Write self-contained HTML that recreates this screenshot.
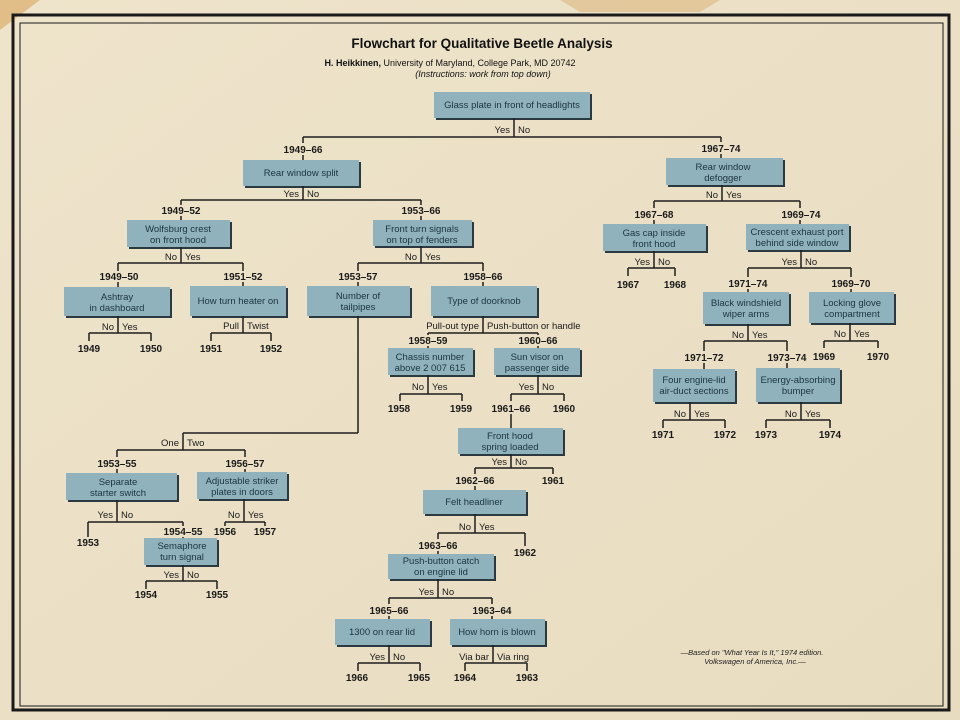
<!DOCTYPE html>
<html><head><meta charset="utf-8"><style>
html,body{margin:0;padding:0;background:#e9dfc4;}
svg{display:block}
text{font-family:"Liberation Sans",sans-serif;}
.b{font-size:9.5px;fill:#1c3440;text-anchor:middle}
.l{font-size:9.5px;fill:#1a1a1a}
.y{font-size:10px;font-weight:bold;fill:#1a1a1a;text-anchor:middle}
line{stroke:#1e1e1e;stroke-width:1.5}
.s{fill:#2b3a40}.r{fill:#8fb2bc}
</style></head><body>
<svg width="960" height="720" viewBox="0 0 960 720">
<defs><linearGradient id="g" x1="0" y1="0" x2="1" y2="1"><stop offset="0" stop-color="#eee4cb"/><stop offset="1" stop-color="#e8dcc0"/></linearGradient></defs>
<rect width="960" height="720" fill="url(#g)"/>
<path d="M0 0 L40 0 L0 30Z" fill="#d9a55a" opacity=".6"/>
<path d="M560 0 L720 0 L700 12 L580 12Z" fill="#d8b070" opacity=".5"/>
<rect x="13" y="15" width="936" height="695" fill="none" stroke="#1a1a1a" stroke-width="3"/>
<rect x="20" y="23" width="923" height="683" fill="none" stroke="#1a1a1a" stroke-width="1"/>

<text x="482" y="48" style="font-size:13.5px;font-weight:bold;fill:#111;text-anchor:middle">Flowchart for Qualitative Beetle Analysis</text>
<text x="450" y="66" style="font-size:9px;fill:#111;text-anchor:middle"><tspan font-weight="bold">H. Heikkinen,</tspan> University of Maryland, College Park, MD 20742</text>
<text x="483" y="77" style="font-size:9px;font-style:italic;fill:#111;text-anchor:middle">(Instructions: work from top down)</text>

<g>
<!-- boxes: shadow + rect -->
<rect class="s" x="436" y="94" width="156" height="26"/><rect class="r" x="434" y="92" width="156" height="26"/>
<rect class="s" x="245" y="162" width="116" height="26"/><rect class="r" x="243" y="160" width="116" height="26"/>
<rect class="s" x="129" y="222" width="103" height="27"/><rect class="r" x="127" y="220" width="103" height="27"/>
<rect class="s" x="375" y="222" width="99" height="26"/><rect class="r" x="373" y="220" width="99" height="26"/>
<rect class="s" x="66" y="289" width="106" height="29"/><rect class="r" x="64" y="287" width="106" height="29"/>
<rect class="s" x="192" y="288" width="96" height="30"/><rect class="r" x="190" y="286" width="96" height="30"/>
<rect class="s" x="309" y="288" width="103" height="30"/><rect class="r" x="307" y="286" width="103" height="30"/>
<rect class="s" x="433" y="288" width="106" height="30"/><rect class="r" x="431" y="286" width="106" height="30"/>
<rect class="s" x="390" y="350" width="85" height="27"/><rect class="r" x="388" y="348" width="85" height="27"/>
<rect class="s" x="496" y="350" width="86" height="27"/><rect class="r" x="494" y="348" width="86" height="27"/>
<rect class="s" x="460" y="430" width="105" height="26"/><rect class="r" x="458" y="428" width="105" height="26"/>
<rect class="s" x="425" y="492" width="103" height="24"/><rect class="r" x="423" y="490" width="103" height="24"/>
<rect class="s" x="390" y="556" width="106" height="25"/><rect class="r" x="388" y="554" width="106" height="25"/>
<rect class="s" x="337" y="621" width="95" height="26"/><rect class="r" x="335" y="619" width="95" height="26"/>
<rect class="s" x="452" y="621" width="95" height="26"/><rect class="r" x="450" y="619" width="95" height="26"/>
<rect class="s" x="68" y="475" width="111" height="27"/><rect class="r" x="66" y="473" width="111" height="27"/>
<rect class="s" x="146" y="540" width="73" height="27"/><rect class="r" x="144" y="538" width="73" height="27"/>
<rect class="s" x="199" y="474" width="90" height="27"/><rect class="r" x="197" y="472" width="90" height="27"/>
<rect class="s" x="668" y="160" width="117" height="27"/><rect class="r" x="666" y="158" width="117" height="27"/>
<rect class="s" x="605" y="226" width="103" height="27"/><rect class="r" x="603" y="224" width="103" height="27"/>
<rect class="s" x="748" y="226" width="103" height="26"/><rect class="r" x="746" y="224" width="103" height="26"/>
<rect class="s" x="705" y="294" width="86" height="32"/><rect class="r" x="703" y="292" width="86" height="32"/>
<rect class="s" x="811" y="294" width="85" height="31"/><rect class="r" x="809" y="292" width="85" height="31"/>
<rect class="s" x="655" y="371" width="82" height="33"/><rect class="r" x="653" y="369" width="82" height="33"/>
<rect class="s" x="758" y="370" width="84" height="34"/><rect class="r" x="756" y="368" width="84" height="34"/>
</g>

<g class="bt">
<text class="b" x="512" y="108">Glass plate in front of headlights</text>
<text class="b" x="301" y="176">Rear window split</text>
<text class="b" x="178" y="232">Wolfsburg crest</text><text class="b" x="178" y="243">on front hood</text>
<text class="b" x="422" y="232">Front turn signals</text><text class="b" x="422" y="243">on top of fenders</text>
<text class="b" x="117" y="300">Ashtray</text><text class="b" x="117" y="311">in dashboard</text>
<text class="b" x="238" y="304">How turn heater on</text>
<text class="b" x="358" y="299">Number of</text><text class="b" x="358" y="310">tailpipes</text>
<text class="b" x="484" y="304">Type of doorknob</text>
<text class="b" x="430" y="360">Chassis number</text><text class="b" x="430" y="371">above 2 007 615</text>
<text class="b" x="537" y="360">Sun visor on</text><text class="b" x="537" y="371">passenger side</text>
<text class="b" x="510" y="439">Front hood</text><text class="b" x="510" y="450">spring loaded</text>
<text class="b" x="474" y="505">Felt headliner</text>
<text class="b" x="441" y="564">Push-button catch</text><text class="b" x="441" y="575">on engine lid</text>
<text class="b" x="382" y="635">1300 on rear lid</text>
<text class="b" x="497" y="635">How horn is blown</text>
<text class="b" x="118" y="485">Separate</text><text class="b" x="118" y="496">starter switch</text>
<text class="b" x="182" y="549">Semaphore</text><text class="b" x="182" y="560">turn signal</text>
<text class="b" x="242" y="484">Adjustable striker</text><text class="b" x="242" y="495">plates in doors</text>
<text class="b" x="723" y="170">Rear window</text><text class="b" x="723" y="181">defogger</text>
<text class="b" x="654" y="236">Gas cap inside</text><text class="b" x="654" y="247">front hood</text>
<text class="b" x="797" y="235">Crescent exhaust port</text><text class="b" x="797" y="246">behind side window</text>
<text class="b" x="746" y="306">Black windshield</text><text class="b" x="746" y="317">wiper arms</text>
<text class="b" x="852" y="306">Locking glove</text><text class="b" x="852" y="317">compartment</text>
<text class="b" x="694" y="383">Four engine-lid</text><text class="b" x="694" y="394">air-duct sections</text>
<text class="b" x="798" y="383">Energy-absorbing</text><text class="b" x="798" y="394">bumper</text>
</g>

<g>
<!-- glass -->
<line x1="514" y1="118" x2="514" y2="137"/><line x1="303" y1="137" x2="721" y2="137"/>
<line x1="303" y1="137" x2="303" y2="143"/><line x1="303" y1="155" x2="303" y2="160"/>
<line x1="721" y1="137" x2="721" y2="142"/><line x1="721" y1="154" x2="721" y2="158"/>
<!-- rear split -->
<line x1="303" y1="186" x2="303" y2="200"/><line x1="181" y1="200" x2="421" y2="200"/>
<line x1="181" y1="200" x2="181" y2="205"/><line x1="181" y1="216" x2="181" y2="220"/>
<line x1="421" y1="200" x2="421" y2="205"/><line x1="421" y1="216" x2="421" y2="220"/>
<!-- wolfsburg -->
<line x1="181" y1="247" x2="181" y2="263"/><line x1="118" y1="263" x2="243" y2="263"/>
<line x1="118" y1="263" x2="118" y2="271"/><line x1="118" y1="282" x2="118" y2="287"/>
<line x1="243" y1="263" x2="243" y2="271"/><line x1="243" y1="282" x2="243" y2="286"/>
<!-- front turn -->
<line x1="421" y1="246" x2="421" y2="263"/><line x1="358" y1="263" x2="483" y2="263"/>
<line x1="358" y1="263" x2="358" y2="271"/><line x1="358" y1="282" x2="358" y2="286"/>
<line x1="483" y1="263" x2="483" y2="271"/><line x1="483" y1="282" x2="483" y2="286"/>
<!-- ashtray -->
<line x1="118" y1="316" x2="118" y2="333"/><line x1="89" y1="333" x2="151" y2="333"/>
<line x1="89" y1="333" x2="89" y2="341"/><line x1="151" y1="333" x2="151" y2="341"/>
<!-- heater -->
<line x1="243" y1="316" x2="243" y2="333"/><line x1="211" y1="333" x2="271" y2="333"/>
<line x1="211" y1="333" x2="211" y2="341"/><line x1="271" y1="333" x2="271" y2="341"/>
<!-- tailpipes -->
<line x1="358" y1="316" x2="358" y2="433"/><line x1="183" y1="433" x2="358" y2="433"/>
<line x1="183" y1="433" x2="183" y2="450"/><line x1="117" y1="450" x2="245" y2="450"/>
<line x1="117" y1="450" x2="117" y2="457"/><line x1="117" y1="469" x2="117" y2="473"/>
<line x1="245" y1="450" x2="245" y2="457"/><line x1="245" y1="469" x2="245" y2="472"/>
<!-- doorknob -->
<line x1="483" y1="316" x2="483" y2="333"/><line x1="428" y1="333" x2="538" y2="333"/>
<line x1="428" y1="333" x2="428" y2="335"/><line x1="538" y1="333" x2="538" y2="335"/>
<line x1="428" y1="346" x2="428" y2="348"/><line x1="538" y1="346" x2="538" y2="348"/>
<!-- chassis -->
<line x1="428" y1="375" x2="428" y2="394"/><line x1="400" y1="394" x2="462" y2="394"/>
<line x1="400" y1="394" x2="400" y2="401"/><line x1="462" y1="394" x2="462" y2="401"/>
<!-- sun visor -->
<line x1="538" y1="375" x2="538" y2="394"/><line x1="511" y1="394" x2="564" y2="394"/>
<line x1="511" y1="394" x2="511" y2="401"/><line x1="564" y1="394" x2="564" y2="401"/>
<line x1="511" y1="414" x2="511" y2="428"/>
<!-- front hood -->
<line x1="511" y1="454" x2="511" y2="468"/><line x1="475" y1="468" x2="553" y2="468"/>
<line x1="475" y1="468" x2="475" y2="474"/><line x1="553" y1="468" x2="553" y2="474"/>
<line x1="475" y1="486" x2="475" y2="490"/>
<!-- felt -->
<line x1="475" y1="514" x2="475" y2="533"/><line x1="438" y1="533" x2="525" y2="533"/>
<line x1="438" y1="533" x2="438" y2="539"/><line x1="525" y1="533" x2="525" y2="546"/>
<line x1="438" y1="551" x2="438" y2="554"/>
<!-- push button -->
<line x1="438" y1="579" x2="438" y2="598"/><line x1="389" y1="598" x2="492" y2="598"/>
<line x1="389" y1="598" x2="389" y2="604"/><line x1="492" y1="598" x2="492" y2="604"/>
<line x1="389" y1="616" x2="389" y2="619"/><line x1="492" y1="616" x2="492" y2="619"/>
<!-- 1300 -->
<line x1="389" y1="645" x2="389" y2="663"/><line x1="358" y1="663" x2="420" y2="663"/>
<line x1="358" y1="663" x2="358" y2="671"/><line x1="420" y1="663" x2="420" y2="671"/>
<!-- horn -->
<line x1="493" y1="645" x2="493" y2="663"/><line x1="465" y1="663" x2="527" y2="663"/>
<line x1="465" y1="663" x2="465" y2="671"/><line x1="527" y1="663" x2="527" y2="671"/>
<!-- separate -->
<line x1="117" y1="500" x2="117" y2="522"/><line x1="88" y1="522" x2="183" y2="522"/>
<line x1="88" y1="522" x2="88" y2="537"/><line x1="183" y1="522" x2="183" y2="526"/>
<line x1="183" y1="537" x2="183" y2="538"/>
<!-- semaphore -->
<line x1="183" y1="565" x2="183" y2="581"/><line x1="146" y1="581" x2="217" y2="581"/>
<line x1="146" y1="581" x2="146" y2="589"/><line x1="217" y1="581" x2="217" y2="589"/>
<!-- adjustable -->
<line x1="244" y1="499" x2="244" y2="522"/><line x1="225" y1="522" x2="265" y2="522"/>
<line x1="225" y1="522" x2="225" y2="526"/><line x1="265" y1="522" x2="265" y2="526"/>
<!-- defogger -->
<line x1="722" y1="185" x2="722" y2="201"/><line x1="654" y1="201" x2="800" y2="201"/>
<line x1="654" y1="201" x2="654" y2="208"/><line x1="800" y1="201" x2="800" y2="208"/>
<line x1="654" y1="220" x2="654" y2="224"/><line x1="800" y1="220" x2="800" y2="224"/>
<!-- gas cap -->
<line x1="654" y1="251" x2="654" y2="268"/><line x1="628" y1="268" x2="675" y2="268"/>
<line x1="628" y1="268" x2="628" y2="276"/><line x1="675" y1="268" x2="675" y2="276"/>
<!-- crescent -->
<line x1="801" y1="250" x2="801" y2="268"/><line x1="748" y1="268" x2="851" y2="268"/>
<line x1="748" y1="268" x2="748" y2="277"/><line x1="851" y1="268" x2="851" y2="277"/>
<line x1="748" y1="289" x2="748" y2="292"/><line x1="851" y1="289" x2="851" y2="292"/>
<!-- black wiper -->
<line x1="748" y1="324" x2="748" y2="341"/><line x1="704" y1="341" x2="787" y2="341"/>
<line x1="704" y1="341" x2="704" y2="351"/><line x1="787" y1="341" x2="787" y2="351"/>
<line x1="704" y1="363" x2="704" y2="369"/><line x1="787" y1="363" x2="787" y2="368"/>
<!-- locking -->
<line x1="850" y1="323" x2="850" y2="341"/><line x1="824" y1="341" x2="878" y2="341"/>
<line x1="824" y1="341" x2="824" y2="348"/><line x1="878" y1="341" x2="878" y2="348"/>
<!-- four engine -->
<line x1="690" y1="402" x2="690" y2="420"/><line x1="663" y1="420" x2="725" y2="420"/>
<line x1="663" y1="420" x2="663" y2="428"/><line x1="725" y1="420" x2="725" y2="428"/>
<!-- energy -->
<line x1="801" y1="402" x2="801" y2="420"/><line x1="766" y1="420" x2="830" y2="420"/>
<line x1="766" y1="420" x2="766" y2="428"/><line x1="830" y1="420" x2="830" y2="428"/>
</g>

<g>
<!-- branch labels -->
<text class="l" x="510" y="133" text-anchor="end">Yes</text><text class="l" x="518" y="133">No</text>
<text class="l" x="299" y="197" text-anchor="end">Yes</text><text class="l" x="307" y="197">No</text>
<text class="l" x="177" y="260" text-anchor="end">No</text><text class="l" x="185" y="260">Yes</text>
<text class="l" x="417" y="260" text-anchor="end">No</text><text class="l" x="425" y="260">Yes</text>
<text class="l" x="114" y="330" text-anchor="end">No</text><text class="l" x="122" y="330">Yes</text>
<text class="l" x="239" y="329" text-anchor="end">Pull</text><text class="l" x="247" y="329">Twist</text>
<text class="l" x="179" y="446" text-anchor="end">One</text><text class="l" x="187" y="446">Two</text>
<text class="l" x="479" y="329" text-anchor="end">Pull-out type</text><text class="l" x="487" y="329">Push-button or handle</text>
<text class="l" x="424" y="390" text-anchor="end">No</text><text class="l" x="432" y="390">Yes</text>
<text class="l" x="534" y="390" text-anchor="end">Yes</text><text class="l" x="542" y="390">No</text>
<text class="l" x="507" y="465" text-anchor="end">Yes</text><text class="l" x="515" y="465">No</text>
<text class="l" x="471" y="530" text-anchor="end">No</text><text class="l" x="479" y="530">Yes</text>
<text class="l" x="434" y="595" text-anchor="end">Yes</text><text class="l" x="442" y="595">No</text>
<text class="l" x="385" y="660" text-anchor="end">Yes</text><text class="l" x="393" y="660">No</text>
<text class="l" x="489" y="660" text-anchor="end">Via bar</text><text class="l" x="497" y="660">Via ring</text>
<text class="l" x="113" y="518" text-anchor="end">Yes</text><text class="l" x="121" y="518">No</text>
<text class="l" x="179" y="578" text-anchor="end">Yes</text><text class="l" x="187" y="578">No</text>
<text class="l" x="240" y="518" text-anchor="end">No</text><text class="l" x="248" y="518">Yes</text>
<text class="l" x="718" y="198" text-anchor="end">No</text><text class="l" x="726" y="198">Yes</text>
<text class="l" x="650" y="265" text-anchor="end">Yes</text><text class="l" x="658" y="265">No</text>
<text class="l" x="797" y="265" text-anchor="end">Yes</text><text class="l" x="805" y="265">No</text>
<text class="l" x="744" y="338" text-anchor="end">No</text><text class="l" x="752" y="338">Yes</text>
<text class="l" x="846" y="337" text-anchor="end">No</text><text class="l" x="854" y="337">Yes</text>
<text class="l" x="686" y="417" text-anchor="end">No</text><text class="l" x="694" y="417">Yes</text>
<text class="l" x="797" y="417" text-anchor="end">No</text><text class="l" x="805" y="417">Yes</text>
</g>

<g>
<!-- years -->
<text class="y" x="303" y="153">1949–66</text><text class="y" x="721" y="152">1967–74</text>
<text class="y" x="181" y="214">1949–52</text><text class="y" x="421" y="214">1953–66</text>
<text class="y" x="119" y="280">1949–50</text><text class="y" x="243" y="280">1951–52</text>
<text class="y" x="358" y="280">1953–57</text><text class="y" x="483" y="280">1958–66</text>
<text class="y" x="89" y="352">1949</text><text class="y" x="151" y="352">1950</text>
<text class="y" x="211" y="352">1951</text><text class="y" x="271" y="352">1952</text>
<text class="y" x="428" y="344">1958–59</text><text class="y" x="538" y="344">1960–66</text>
<text class="y" x="399" y="412">1958</text><text class="y" x="461" y="412">1959</text>
<text class="y" x="511" y="412">1961–66</text><text class="y" x="564" y="412">1960</text>
<text class="y" x="475" y="484">1962–66</text><text class="y" x="553" y="484">1961</text>
<text class="y" x="438" y="549">1963–66</text><text class="y" x="525" y="556">1962</text>
<text class="y" x="389" y="614">1965–66</text><text class="y" x="492" y="614">1963–64</text>
<text class="y" x="357" y="681">1966</text><text class="y" x="419" y="681">1965</text>
<text class="y" x="465" y="681">1964</text><text class="y" x="527" y="681">1963</text>
<text class="y" x="117" y="467">1953–55</text><text class="y" x="245" y="467">1956–57</text>
<text class="y" x="88" y="546">1953</text><text class="y" x="183" y="535">1954–55</text>
<text class="y" x="146" y="598">1954</text><text class="y" x="217" y="598">1955</text>
<text class="y" x="225" y="535">1956</text><text class="y" x="265" y="535">1957</text>
<text class="y" x="654" y="218">1967–68</text><text class="y" x="801" y="218">1969–74</text>
<text class="y" x="628" y="288">1967</text><text class="y" x="675" y="288">1968</text>
<text class="y" x="748" y="287">1971–74</text><text class="y" x="851" y="287">1969–70</text>
<text class="y" x="704" y="361">1971–72</text><text class="y" x="787" y="361">1973–74</text>
<text class="y" x="824" y="360">1969</text><text class="y" x="878" y="360">1970</text>
<text class="y" x="663" y="438">1971</text><text class="y" x="725" y="438">1972</text>
<text class="y" x="766" y="438">1973</text><text class="y" x="830" y="438">1974</text>
</g>

<text x="752" y="655" style="font-size:7.5px;font-style:italic;fill:#222;text-anchor:middle">—Based on "What Year Is It," 1974 edition.</text>
<text x="755" y="664" style="font-size:7.5px;font-style:italic;fill:#222;text-anchor:middle">Volkswagen of America, Inc.—</text>
</svg>
</body></html>
